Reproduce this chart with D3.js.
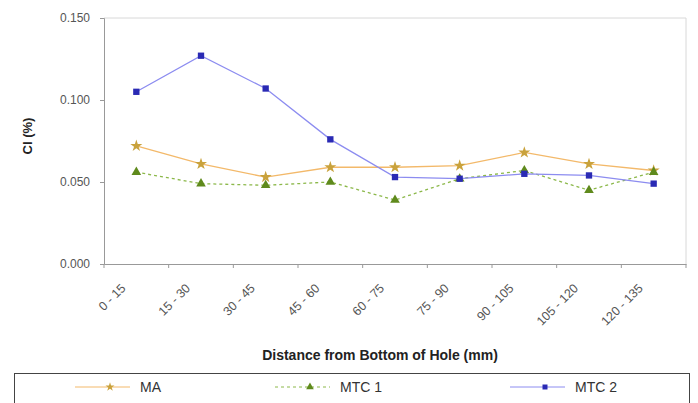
<!DOCTYPE html>
<html><head><meta charset="utf-8">
<script src="https://cdn.jsdelivr.net/npm/d3@7"></script>
<style>body{margin:0;background:#fff;} svg{display:block;font-family:Arial,"Liberation Sans",sans-serif;}</style>
</head><body>
<svg id="c" width="698" height="403"></svg>
<script>
const categories = ["0 - 15","15 - 30","30 - 45","45 - 60","60 - 75","75 - 90","90 - 105","105 - 120","120 - 135"];
const MA   = [0.072,0.061,0.053,0.059,0.059,0.060,0.068,0.061,0.057];
const MTC1 = [0.056,0.049,0.048,0.050,0.039,0.052,0.057,0.045,0.056];
const MTC2 = [0.105,0.127,0.107,0.076,0.053,0.052,0.055,0.054,0.049];
const yTicks = [0,0.05,0.10,0.15];
const seriesNames = ["MA","MTC 1","MTC 2"];

const svg = d3.select("#c");
const L=104, R=686, T=18, B=264;
const x = d3.scaleBand().domain(categories).range([L,R]).padding(0);
const y = d3.scaleLinear().domain([0,0.15]).range([B,T]);

// plot frame (top/right light lines)
svg.append("line").attr("x1",L).attr("x2",R).attr("y1",T).attr("y2",T).attr("stroke","#d8d8d8");
svg.append("line").attr("x1",R).attr("x2",R).attr("y1",T).attr("y2",B).attr("stroke","#d8d8d8");

// y axis
const ya = svg.append("g").attr("transform",`translate(${L},0)`)
  .call(d3.axisLeft(y).tickValues(yTicks).tickFormat(d3.format(".3f")).tickSize(4).tickPadding(10));
ya.select(".domain").attr("stroke","#999");
ya.selectAll(".tick line").attr("stroke","#999");
ya.selectAll("text").attr("font-size",12).attr("fill","#555");

// x axis
const xa = svg.append("g").attr("transform",`translate(0,${B})`)
  .call(d3.axisBottom(x).tickSize(0).tickFormat(""));
xa.select(".domain").attr("stroke","#999");
const bounds = categories.map(c=>x(c)).concat([R]);
xa.selectAll(".bt").data(bounds).enter().append("line").attr("class","bt")
  .attr("x1",d=>d).attr("x2",d=>d).attr("y1",0).attr("y2",4).attr("stroke","#999");
xa.selectAll(".lbl").data(categories).enter().append("text").attr("class","lbl")
  .attr("transform",d=>`translate(${x(d)+x.bandwidth()/2-10},${25}) rotate(-45)`)
  .attr("text-anchor","end").attr("font-size",12.5).attr("fill","#555").text(d=>d);

// axis titles
svg.append("text").attr("x",(L+R)/2-15).attr("y",360).attr("text-anchor","middle")
  .attr("font-size",14).attr("font-weight","bold").attr("fill","#222").text("Distance from Bottom of Hole (mm)");
svg.append("text").attr("transform",`translate(32,${(T+B)/2-5}) rotate(-90)`).attr("text-anchor","middle")
  .attr("font-size",13).attr("font-weight","bold").attr("fill","#222").text("Cl (%)");

const cx = d => x(d)+x.bandwidth()/2;
const line = vals => d3.line().x((v,i)=>cx(categories[i])).y(v=>y(v))(vals);

const styles = [
  {vals:MA, stroke:"#f3b96a", dash:null, sym:d3.symbolStar, size:45, fill:"#c9a23c"},
  {vals:MTC1, stroke:"#8cb84a", dash:"3,3", sym:d3.symbolTriangle, size:40, fill:"#5f8a1c"},
  {vals:MTC2, stroke:"#8c8cf0", dash:null, sym:d3.symbolSquare, size:40, fill:"#2a2ab4"}
];
styles.forEach(s=>{
  svg.append("path").attr("d",line(s.vals)).attr("fill","none").attr("stroke",s.stroke)
    .attr("stroke-width",1.3).attr("stroke-dasharray",s.dash);
  svg.selectAll(null).data(s.vals).enter().append("path")
    .attr("d",d3.symbol().type(s.sym).size(s.size)())
    .attr("transform",(v,i)=>`translate(${cx(categories[i])},${y(v)})`)
    .attr("fill",s.fill);
});

// legend
svg.append("rect").attr("x",14.5).attr("y",373.5).attr("width",675).attr("height",40)
  .attr("fill","none").attr("stroke","#444").attr("stroke-width",1);
const lx = [110,310,545];
styles.forEach((s,i)=>{
  const g = svg.append("g").attr("transform",`translate(${lx[i]},387)`);
  g.append("line").attr("x1",-35).attr("x2",20).attr("stroke",s.stroke).attr("stroke-width",1)
    .attr("stroke-dasharray",s.dash);
  g.append("path").attr("d",d3.symbol().type(s.sym).size(25)()).attr("fill",s.fill);
  g.append("text").attr("x",30).attr("y",5).attr("font-size",14).attr("fill","#333").text(seriesNames[i]);
});
</script>
</body></html>
